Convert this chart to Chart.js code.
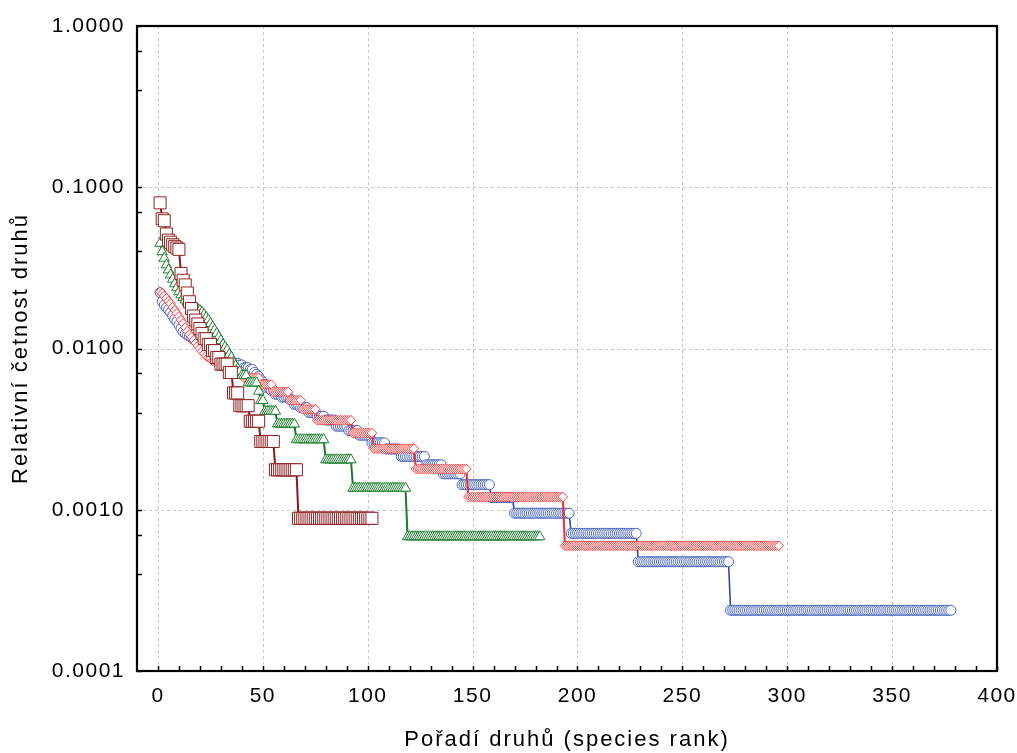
<!DOCTYPE html>
<html>
<head>
<meta charset="utf-8">
<script src="https://cdn.jsdelivr.net/npm/chart.js@4/dist/chart.umd.min.js"></script>
<style>
html,body{margin:0;padding:0;background:#fff;}
#c{display:block;}
</style>
</head>
<body>
<canvas id="c" width="1017" height="753"></canvas>
<script>
// ---------- tick labels ----------
const xTickValues = [0, 50, 100, 150, 200, 250, 300, 350, 400];
const xMinorTickValues = [10, 20, 30, 40, 60, 70, 80, 90, 110, 120, 130, 140, 160, 170, 180, 190,
  210, 220, 230, 240, 260, 270, 280, 290, 310, 320, 330, 340, 360, 370, 380, 390];
const yTickValues = [0.0001, 0.001, 0.01, 0.1, 1];
const yMinorTickValues = [0.7, 0.4, 0.07, 0.04, 0.007, 0.004, 0.0007, 0.0004];

// ---------- series (relative frequency by species rank 1..N) ----------
const blueValues = [
  0.0222,0.0195,0.0186,0.0179,0.0174,0.0167,0.0160,0.0152,0.0147,0.0140,0.0133,0.0127,
  0.0124,0.0121,0.0119,0.0117,0.0114,0.0112,0.0110,0.0107,0.0105,0.0102,0.0100,0.0098,0.0095,0.0093,
  0.0093,0.0090,0.0090,0.0088,0.0088,0.0086,0.0086,0.0083,0.0083,0.0081,0.0081,0.0081,0.0079,0.0079,
  0.0076,0.0076,0.0076,0.0074,0.0074,0.0071,0.0069,0.0067,0.0064,0.0062,
  0.0060,0.0057,0.0057,0.0055,0.0055,0.0052,0.0052,0.0052,0.0050,0.0050,0.0050,0.0050,0.0048,0.0048,
  0.0045,0.0045,0.0045,0.0043,0.0043,0.0043,0.0043,0.0040,0.0040,0.0040,
  0.0040,0.0038,0.0038,0.0038,0.0038,0.0036,0.0036,0.0036,0.0036,0.0036,
  0.0033,0.0033,0.0033,0.0033,0.0033,0.0033,0.0031,0.0031,0.0031,0.0031,
  0.0031,0.0029,0.0029,0.0029,0.0029,0.0029,0.0029,
  0.0026,0.0026,0.0026,0.0026,0.0026,0.0026,0.0026,
  0.00238,0.00238,0.00238,0.00238,0.00238,0.00238,0.00238,
  0.00214,0.00214,0.00214,0.00214,0.00214,0.00214,0.00214,0.00214,0.00214,0.00214,
  0.00214,0.00214,
  0.0019,0.0019,0.0019,0.0019,0.0019,0.0019,0.0019,0.0019,
  0.00167,0.00167,0.00167,0.00167,0.00167,0.00167,0.00167,0.00167,0.00167,
  0.00143,0.00143,0.00143,0.00143,0.00143,0.00143,0.00143,0.00143,0.00143,0.00143,
  0.00143,0.00143,0.00143,0.00143,
  0.00119,0.00119,0.00119,0.00119,0.00119,0.00119,0.00119,0.00119,0.00119,0.00119,
  0.00119,
  0.000952,0.000952,0.000952,0.000952,0.000952,0.000952,0.000952,0.000952,0.000952,0.000952,
  0.000952,0.000952,0.000952,0.000952,0.000952,0.000952,0.000952,0.000952,0.000952,0.000952,
  0.000952,0.000952,0.000952,0.000952,0.000952,0.000952,0.000952,
  0.000714,0.000714,0.000714,0.000714,0.000714,0.000714,0.000714,0.000714,0.000714,0.000714,
  0.000714,0.000714,0.000714,0.000714,0.000714,0.000714,0.000714,0.000714,0.000714,0.000714,
  0.000714,0.000714,0.000714,0.000714,0.000714,0.000714,0.000714,0.000714,0.000714,0.000714,
  0.000714,0.000714,
  0.000476,0.000476,0.000476,0.000476,0.000476,0.000476,0.000476,0.000476,0.000476,0.000476,
  0.000476,0.000476,0.000476,0.000476,0.000476,0.000476,0.000476,0.000476,0.000476,0.000476,
  0.000476,0.000476,0.000476,0.000476,0.000476,0.000476,0.000476,0.000476,0.000476,0.000476,
  0.000476,0.000476,0.000476,0.000476,0.000476,0.000476,0.000476,0.000476,0.000476,0.000476,
  0.000476,0.000476,0.000476,0.000476,
  0.000238,0.000238,0.000238,0.000238,0.000238,0.000238,0.000238,0.000238,0.000238,0.000238,
  0.000238,0.000238,0.000238,0.000238,0.000238,0.000238,0.000238,0.000238,0.000238,0.000238,
  0.000238,0.000238,0.000238,0.000238,0.000238,0.000238,0.000238,0.000238,0.000238,0.000238,
  0.000238,0.000238,0.000238,0.000238,0.000238,0.000238,0.000238,0.000238,0.000238,0.000238,
  0.000238,0.000238,0.000238,0.000238,0.000238,0.000238,0.000238,0.000238,0.000238,0.000238,
  0.000238,0.000238,0.000238,0.000238,0.000238,0.000238,0.000238,0.000238,0.000238,0.000238,
  0.000238,0.000238,0.000238,0.000238,0.000238,0.000238,0.000238,0.000238,0.000238,0.000238,
  0.000238,0.000238,0.000238,0.000238,0.000238,0.000238,0.000238,0.000238,0.000238,0.000238,
  0.000238,0.000238,0.000238,0.000238,0.000238,0.000238,0.000238,0.000238,0.000238,0.000238,
  0.000238,0.000238,0.000238,0.000238,0.000238,0.000238,0.000238,0.000238,0.000238,0.000238,
  0.000238,0.000238,0.000238,0.000238,0.000238,0.000238
];

const redValues = [
  0.0225,0.0220,0.0212,0.0205,0.0197,0.0190,0.0180,0.0173,0.0165,0.0158,
  0.0150,0.0143,0.0135,0.0128,0.0122,0.0118,0.0113,0.0108,0.0104,0.0100,
  0.0096,0.0093,0.0090,0.0088,0.0087,0.0084,0.0084,0.0081,0.0079,0.0078,
  0.0078,0.0075,0.0075,
  0.00718,0.00718,0.00718,0.00718,0.00718,0.00718,0.00718,
  0.00658,0.00658,0.00658,0.00658,0.00658,0.00658,0.00658,0.00658,
  0.00598,0.00598,0.00598,0.00598,0.00598,0.00598,
  0.00538,0.00538,0.00538,0.00538,0.00538,0.00538,0.00538,0.00538,
  0.00478,0.00478,0.00478,0.00478,0.00478,0.00478,
  0.00419,0.00419,0.00419,0.00419,0.00419,0.00419,0.00419,
  0.00359,0.00359,0.00359,0.00359,0.00359,0.00359,0.00359,0.00359,0.00359,0.00359,
  0.00359,0.00359,0.00359,0.00359,0.00359,0.00359,0.00359,
  0.00299,0.00299,0.00299,0.00299,0.00299,0.00299,0.00299,0.00299,0.00299,0.00299,
  0.00239,0.00239,0.00239,0.00239,0.00239,0.00239,0.00239,0.00239,0.00239,0.00239,
  0.00239,0.00239,0.00239,0.00239,0.00239,0.00239,0.00239,0.00239,0.00239,0.00239,
  0.00179,0.00179,0.00179,0.00179,0.00179,0.00179,0.00179,0.00179,0.00179,0.00179,
  0.00179,0.00179,0.00179,0.00179,0.00179,0.00179,0.00179,0.00179,0.00179,0.00179,
  0.00179,0.00179,0.00179,0.00179,0.00179,
  0.0012,0.0012,0.0012,0.0012,0.0012,0.0012,0.0012,0.0012,0.0012,0.0012,
  0.0012,0.0012,0.0012,0.0012,0.0012,0.0012,0.0012,0.0012,0.0012,0.0012,
  0.0012,0.0012,0.0012,0.0012,0.0012,0.0012,0.0012,0.0012,0.0012,0.0012,
  0.0012,0.0012,0.0012,0.0012,0.0012,0.0012,0.0012,0.0012,0.0012,0.0012,
  0.0012,0.0012,0.0012,0.0012,0.0012,0.0012,
  0.000598,0.000598,0.000598,0.000598,0.000598,0.000598,0.000598,0.000598,0.000598,0.000598,
  0.000598,0.000598,0.000598,0.000598,0.000598,0.000598,0.000598,0.000598,0.000598,0.000598,
  0.000598,0.000598,0.000598,0.000598,0.000598,0.000598,0.000598,0.000598,0.000598,0.000598,
  0.000598,0.000598,0.000598,0.000598,0.000598,0.000598,0.000598,0.000598,0.000598,0.000598,
  0.000598,0.000598,0.000598,0.000598,0.000598,0.000598,0.000598,0.000598,0.000598,0.000598,
  0.000598,0.000598,0.000598,0.000598,0.000598,0.000598,0.000598,0.000598,0.000598,0.000598,
  0.000598,0.000598,0.000598,0.000598,0.000598,0.000598,0.000598,0.000598,0.000598,0.000598,
  0.000598,0.000598,0.000598,0.000598,0.000598,0.000598,0.000598,0.000598,0.000598,0.000598,
  0.000598,0.000598,0.000598,0.000598,0.000598,0.000598,0.000598,0.000598,0.000598,0.000598,
  0.000598,0.000598,0.000598,0.000598,0.000598,0.000598,0.000598,0.000598,0.000598,0.000598,
  0.000598,0.000598,0.000598
];

const greenValues = [
  0.0449,0.0398,0.0363,0.0330,0.0307,0.0286,0.0269,0.0252,0.0238,0.0225,
  0.0215,0.0207,0.0200,0.0194,0.0189,0.0185,0.0181,0.0178,0.0175,0.0172,
  0.0168,0.0163,0.0156,0.0150,0.0143,0.0136,0.0130,0.0124,0.0118,0.0112,
  0.0106,0.0102,0.0098,0.0092,0.0088,0.0082,0.0078,0.0075,0.0072,0.0068,
  0.0068,0.0068,
  0.00612,0.00612,0.00612,0.00612,0.00612,
  0.00544,
  0.00476,0.00476,
  0.00408,0.00408,0.00408,0.00408,0.00408,0.00408,
  0.0034,0.0034,0.0034,0.0034,0.0034,0.0034,0.0034,0.0034,0.0034,
  0.00272,0.00272,0.00272,0.00272,0.00272,0.00272,0.00272,0.00272,0.00272,0.00272,
  0.00272,0.00272,0.00272,0.00272,
  0.00204,0.00204,0.00204,0.00204,0.00204,0.00204,0.00204,0.00204,0.00204,0.00204,
  0.00204,0.00204,0.00204,
  0.00136,0.00136,0.00136,0.00136,0.00136,0.00136,0.00136,0.00136,0.00136,0.00136,
  0.00136,0.00136,0.00136,0.00136,0.00136,0.00136,0.00136,0.00136,0.00136,0.00136,
  0.00136,0.00136,0.00136,0.00136,0.00136,0.00136,
  0.00068,0.00068,0.00068,0.00068,0.00068,0.00068,0.00068,0.00068,0.00068,0.00068,
  0.00068,0.00068,0.00068,0.00068,0.00068,0.00068,0.00068,0.00068,0.00068,0.00068,
  0.00068,0.00068,0.00068,0.00068,0.00068,0.00068,0.00068,0.00068,0.00068,0.00068,
  0.00068,0.00068,0.00068,0.00068,0.00068,0.00068,0.00068,0.00068,0.00068,0.00068,
  0.00068,0.00068,0.00068,0.00068,0.00068,0.00068,0.00068,0.00068,0.00068,0.00068,
  0.00068,0.00068,0.00068,0.00068,0.00068,0.00068,0.00068,0.00068,0.00068,0.00068,
  0.00068,0.00068,0.00068,0.00068
];

const darkRedValues = [
  0.0800,0.0637,0.0620,0.0513,0.0470,0.0456,0.0440,0.0430,0.0420,0.0412,
  0.0292,0.0265,0.0248,0.0221,0.0195,0.0177,0.0159,0.0150,0.0142,0.0133,
  0.0124,0.0115,0.0115,0.0106,0.0106,0.0097,0.0097,0.0088,0.0088,0.0080,
  0.0080,0.0080,0.0080,0.0071,0.0071,
  0.0053,0.0053,0.0053,
  0.00442,0.00442,0.00442,0.00442,0.00442,
  0.00354,0.00354,0.00354,0.00354,0.00354,
  0.00265,0.00265,0.00265,0.00265,0.00265,0.00265,0.00265,
  0.00177,0.00177,0.00177,0.00177,0.00177,0.00177,0.00177,0.00177,0.00177,0.00177,
  0.00177,
  0.000885,0.000885,0.000885,0.000885,0.000885,0.000885,0.000885,0.000885,0.000885,0.000885,
  0.000885,0.000885,0.000885,0.000885,0.000885,0.000885,0.000885,0.000885,0.000885,0.000885,
  0.000885,0.000885,0.000885,0.000885,0.000885,0.000885,0.000885,0.000885,0.000885,0.000885,
  0.000885,0.000885,0.000885,0.000885,0.000885,0.000885
];

const toPoints = vals => vals.map((v, i) => ({ x: i + 1, y: v }));

const FONT = "'Liberation Sans', Arial, sans-serif";

function patchTitle(s) {
  if (s._titlePatched) return;
  const orig = s.drawTitle;
  s.drawTitle = function (...args) {
    const c = this.ctx;
    const old = c.letterSpacing;
    c.letterSpacing = '2px';
    orig.apply(this, args);
    c.letterSpacing = old;
  };
  s._titlePatched = true;
}

const framePlugin = {
  id: 'frame',
  beforeDraw(chart) {
    chart.ctx.letterSpacing = '1.5px';
  },
  beforeDatasetsDraw(chart) {
    const { ctx, chartArea: a, scales: { x, y } } = chart;
    ctx.save();
    ctx.strokeStyle = '#c6c6c6';
    ctx.lineWidth = 1;
    ctx.setLineDash([3, 3]);
    ctx.beginPath();
    xTickValues.forEach(v => {
      const px = Math.round(x.getPixelForValue(v)) + 0.5;
      if (px > a.left + 2 && px < a.right - 2) { ctx.moveTo(px, a.top); ctx.lineTo(px, a.bottom); }
    });
    yTickValues.forEach(v => {
      const py = Math.round(y.getPixelForValue(v)) + 0.5;
      if (py > a.top + 2 && py < a.bottom - 2) { ctx.moveTo(a.left, py); ctx.lineTo(a.right, py); }
    });
    ctx.stroke();
    ctx.restore();
  },
  afterDatasetsDraw(chart) {
    const { ctx, chartArea: a, scales: { x, y } } = chart;
    ctx.save();
    ctx.setLineDash([]);
    ctx.strokeStyle = '#000';
    ctx.lineWidth = 1.5;
    ctx.beginPath();
    xTickValues.concat(xMinorTickValues).forEach(v => {
      const px = Math.round(x.getPixelForValue(v)) + 0.5;
      ctx.moveTo(px, a.bottom); ctx.lineTo(px, a.bottom - 5);
    });
    yTickValues.concat(yMinorTickValues).forEach(v => {
      const py = Math.round(y.getPixelForValue(v)) + 0.5;
      ctx.moveTo(a.left, py); ctx.lineTo(a.left + 5, py);
    });
    ctx.stroke();
    ctx.lineWidth = 2.2;
    ctx.strokeRect(a.left, a.top, a.right - a.left, a.bottom - a.top);
    ctx.restore();
  }
};

const mk = (label, vals, lineColor, ptColor, style, radius, lw, order) => ({
  label,
  data: toPoints(vals),
  borderColor: lineColor,
  borderWidth: lw,
  backgroundColor: '#ffffff',
  pointStyle: style,
  pointRadius: radius,
  pointBorderColor: ptColor,
  pointBackgroundColor: '#ffffff',
  pointBorderWidth: 1,
  tension: 0,
  order
});

new Chart(document.getElementById('c'), {
  type: 'line',
  data: {
    datasets: [
      mk('A', blueValues, '#2d4ca8', '#4a66bf', 'circle', 5, 1.6, 4),
      mk('B', redValues, '#ee2e2e', '#ff3b3b', 'rectRot', 4.8, 2, 3),
      mk('C', greenValues, '#1b7a2c', '#1f8030', 'triangle', 6, 2, 2),
      mk('D', darkRedValues, '#8a1a1a', '#8e2222', 'rect', 8.5, 2, 1)
    ]
  },
  options: {
    responsive: false,
    animation: false,
    devicePixelRatio: 1,
    layout: { padding: { top: 26, right: 0, left: 0, bottom: 0 } },
    plugins: { legend: { display: false }, tooltip: { enabled: false } },
    scales: {
      x: {
        type: 'linear',
        min: -10,
        max: 400,
        afterBuildTicks: s => { s.ticks = xTickValues.map(v => ({ value: v })); },
        afterFit: s => { s.height = 82; s.paddingRight = 20; s.paddingLeft = 0; patchTitle(s); },
        grid: { display: false, drawTicks: false },
        border: { display: false },
        ticks: {
          autoSkip: false, maxRotation: 0, padding: 13, color: '#000',
          font: { family: FONT, size: 21 },
          callback: v => String(v)
        },
        title: {
          display: true, text: 'Pořadí druhů (species rank)', color: '#000',
          font: { family: FONT, size: 22 }, padding: { top: 0, bottom: 0 }
        }
      },
      y: {
        type: 'logarithmic',
        min: 0.0001,
        max: 1,
        afterBuildTicks: s => { s.ticks = yTickValues.map(v => ({ value: v })); },
        afterFit: s => { s.width = 137; s.paddingTop = 0; s.paddingBottom = 0; patchTitle(s); },
        grid: { display: false, drawTicks: false },
        border: { display: false },
        ticks: {
          autoSkip: false, padding: 12, color: '#000',
          font: { family: FONT, size: 21 },
          callback: v => Number(v).toFixed(4)
        },
        title: {
          display: true, text: 'Relativní četnost druhů', color: '#000',
          font: { family: FONT, size: 22 }, padding: { top: 8, bottom: 0 }
        }
      }
    }
  },
  plugins: [framePlugin]
});
</script>
</body>
</html>
